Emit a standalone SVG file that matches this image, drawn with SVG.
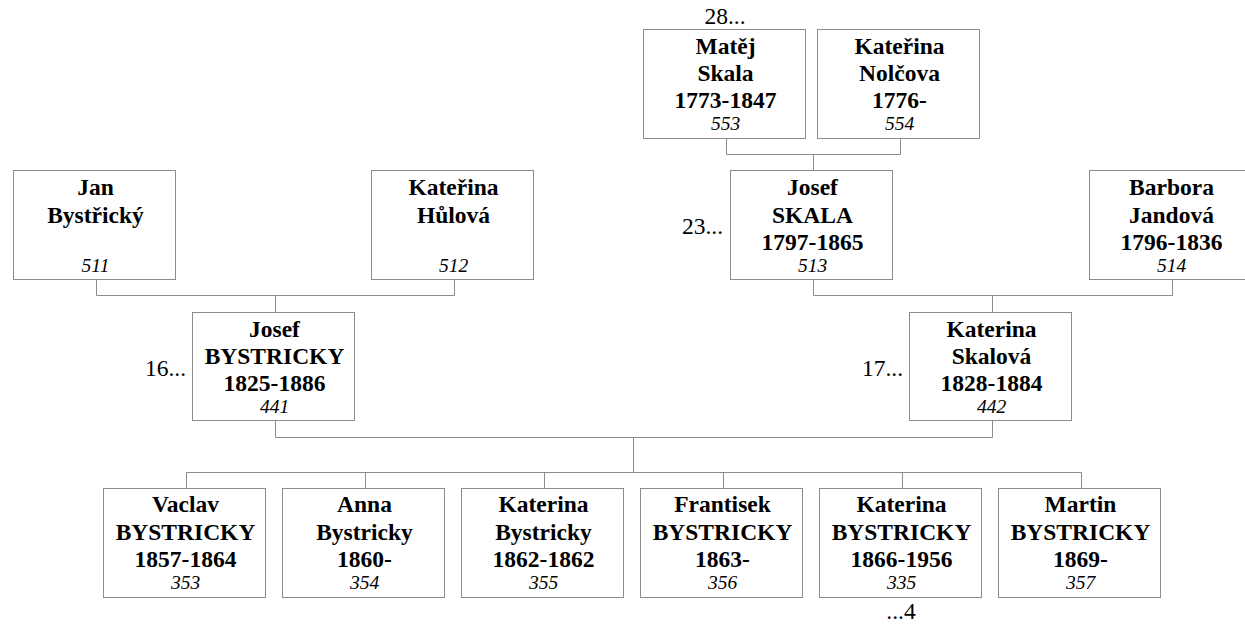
<svg xmlns="http://www.w3.org/2000/svg" width="1245" height="626" viewBox="0 0 1245 626">
<style>
.box{fill:#fff;stroke:#8c8c8c;stroke-width:1}
.n{font-family:"Liberation Serif","Times New Roman",serif;font-weight:bold;font-size:23.5px;fill:#000;text-anchor:middle}
.id{font-family:"Liberation Serif","Times New Roman",serif;font-style:italic;font-size:19.5px;fill:#000;text-anchor:middle}
.side{font-family:"Liberation Serif","Times New Roman",serif;font-size:23.5px;fill:#000}
.con{fill:none;stroke:#8c8c8c;stroke-width:1}
</style>
<rect width="1245" height="626" fill="#fff"/>
<g id="connectors" class="con">
<path d="M726.5 138.5V154.5H900.5V138.5M813.5 154.5V171"/>
<path d="M96.5 279.5V295.5H454.5V279.5M275.5 295.5V312.5"/>
<path d="M813.5 279.5V295.5H1172.5V279.5M992.5 295.5V312.5"/>
<path d="M275.5 420.5V437.5H992.5V420.5M633.5 437.5V472.5"/>
<path d="M186.5 472.5H1081.5M186.5 472.5V488.5M365.5 472.5V488.5M544.5 472.5V488.5M723.5 472.5V488.5M902.5 472.5V488.5M1081.5 472.5V488.5"/>
</g>
<g id="matej">
<rect class="box" x="643.5" y="29.5" width="162" height="109"/>
<text class="side" x="725" y="23.5" text-anchor="middle">28...</text>
<text class="n" x="725.5" y="53.5">Matěj</text>
<text class="n" x="725.5" y="81">Skala</text>
<text class="n" x="725.5" y="108">1773-1847</text>
<text class="id" x="725.5" y="130">553</text>
</g>
<g id="katerina_nolcova">
<rect class="box" x="817.5" y="29.5" width="162" height="109"/>
<text class="n" x="899.5" y="53.5">Kateřina</text>
<text class="n" x="899.5" y="81">Nolčova</text>
<text class="n" x="899.5" y="108">1776-</text>
<text class="id" x="899.5" y="130">554</text>
</g>
<g id="jan">
<rect class="box" x="13.5" y="170.5" width="162" height="109"/>
<text class="n" x="95.5" y="195">Jan</text>
<text class="n" x="95.5" y="222.5">Bystřický</text>
<text class="id" x="95.5" y="271.5">511</text>
</g>
<g id="katerina_hulova">
<rect class="box" x="371.5" y="170.5" width="162" height="109"/>
<text class="n" x="453.5" y="195">Kateřina</text>
<text class="n" x="453.5" y="222.5">Hůlová</text>
<text class="id" x="453.5" y="271.5">512</text>
</g>
<g id="josef_skala">
<rect class="box" x="730.5" y="170.5" width="162" height="109"/>
<text class="side" x="723" y="234" text-anchor="end">23...</text>
<text class="n" x="812.5" y="195">Josef</text>
<text class="n" x="812.5" y="222.5">SKALA</text>
<text class="n" x="812.5" y="249.5">1797-1865</text>
<text class="id" x="812.5" y="271.5">513</text>
</g>
<g id="barbora">
<rect class="box" x="1089.5" y="170.5" width="162" height="109"/>
<text class="n" x="1171.5" y="195">Barbora</text>
<text class="n" x="1171.5" y="222.5">Jandová</text>
<text class="n" x="1171.5" y="249.5">1796-1836</text>
<text class="id" x="1171.5" y="271.5">514</text>
</g>
<g id="josef_bystricky">
<rect class="box" x="192.5" y="312.5" width="162" height="108"/>
<text class="side" x="186" y="376" text-anchor="end">16...</text>
<text class="n" x="274.5" y="336.5">Josef</text>
<text class="n" x="274.5" y="364">BYSTRICKY</text>
<text class="n" x="274.5" y="391">1825-1886</text>
<text class="id" x="274.5" y="413">441</text>
</g>
<g id="katerina_skalova">
<rect class="box" x="909.5" y="312.5" width="162" height="108"/>
<text class="side" x="903" y="376" text-anchor="end">17...</text>
<text class="n" x="991.5" y="336.5">Katerina</text>
<text class="n" x="991.5" y="364">Skalová</text>
<text class="n" x="991.5" y="391">1828-1884</text>
<text class="id" x="991.5" y="413">442</text>
</g>
<g id="vaclav">
<rect class="box" x="103.5" y="488.5" width="162" height="109"/>
<text class="n" x="185.5" y="512">Vaclav</text>
<text class="n" x="185.5" y="539.5">BYSTRICKY</text>
<text class="n" x="185.5" y="566.5">1857-1864</text>
<text class="id" x="185.5" y="588.5">353</text>
</g>
<g id="anna">
<rect class="box" x="282.5" y="488.5" width="162" height="109"/>
<text class="n" x="364.5" y="512">Anna</text>
<text class="n" x="364.5" y="539.5">Bystricky</text>
<text class="n" x="364.5" y="566.5">1860-</text>
<text class="id" x="364.5" y="588.5">354</text>
</g>
<g id="katerina_bystricky">
<rect class="box" x="461.5" y="488.5" width="162" height="109"/>
<text class="n" x="543.5" y="512">Katerina</text>
<text class="n" x="543.5" y="539.5">Bystricky</text>
<text class="n" x="543.5" y="566.5">1862-1862</text>
<text class="id" x="543.5" y="588.5">355</text>
</g>
<g id="frantisek">
<rect class="box" x="640.5" y="488.5" width="162" height="109"/>
<text class="n" x="722.5" y="512">Frantisek</text>
<text class="n" x="722.5" y="539.5">BYSTRICKY</text>
<text class="n" x="722.5" y="566.5">1863-</text>
<text class="id" x="722.5" y="588.5">356</text>
</g>
<g id="katerina_bystricky2">
<rect class="box" x="819.5" y="488.5" width="162" height="109"/>
<text class="n" x="901.5" y="512">Katerina</text>
<text class="n" x="901.5" y="539.5">BYSTRICKY</text>
<text class="n" x="901.5" y="566.5">1866-1956</text>
<text class="id" x="901.5" y="588.5">335</text>
<text class="side" x="901" y="619" text-anchor="middle">...4</text>
</g>
<g id="martin">
<rect class="box" x="998.5" y="488.5" width="162" height="109"/>
<text class="n" x="1080.5" y="512">Martin</text>
<text class="n" x="1080.5" y="539.5">BYSTRICKY</text>
<text class="n" x="1080.5" y="566.5">1869-</text>
<text class="id" x="1080.5" y="588.5">357</text>
</g>
</svg>
